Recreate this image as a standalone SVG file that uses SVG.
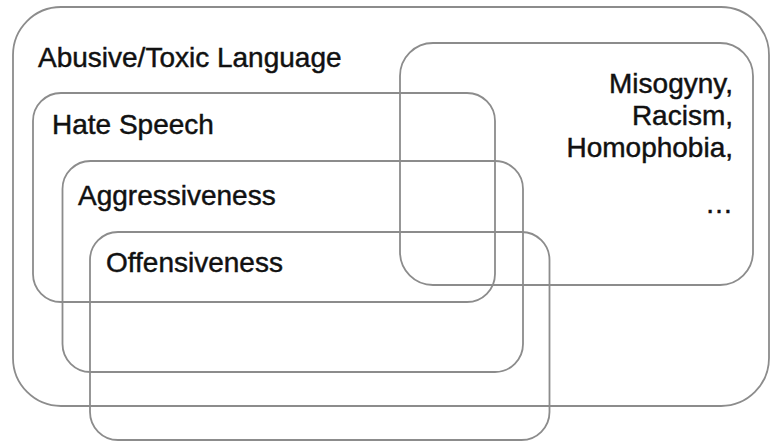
<svg xmlns="http://www.w3.org/2000/svg" width="770" height="442" viewBox="0 0 770 442">
<style>
.box{fill:none;stroke:#8c8c8c;stroke-width:1.8}
.lbl{font-family:"Liberation Sans",Arial,Helvetica,sans-serif;font-size:28px;fill:#111;stroke:#111;stroke-width:0.45}
.end{text-anchor:end}
</style>
<rect width="770" height="442" fill="#fff"/>
<g id="abusive">
<rect class="box" x="13" y="7" width="756" height="399" rx="48" ry="48"/>
<text class="lbl" x="38" y="67">Abusive/Toxic Language</text>
</g>
<g id="hate-speech">
<rect class="box" x="33" y="93" width="462" height="209" rx="28" ry="28"/>
<text class="lbl" x="52" y="134">Hate Speech</text>
</g>
<g id="aggressiveness">
<rect class="box" x="62.5" y="161" width="460.5" height="211" rx="28" ry="28"/>
<text class="lbl" x="78" y="205">Aggressiveness</text>
</g>
<g id="offensiveness">
<rect class="box" x="90" y="232" width="459.5" height="208" rx="28" ry="28"/>
<text class="lbl" x="106" y="272">Offensiveness</text>
</g>
<g id="misogyny">
<rect class="box" x="400" y="43" width="353" height="242" rx="33" ry="33"/>
<text class="lbl end" x="733" y="93">Misogyny,</text>
<text class="lbl end" x="733" y="125">Racism,</text>
<text class="lbl end" x="733" y="157">Homophobia,</text>
<text class="lbl end" x="733" y="213">…</text>
</g>
</svg>
